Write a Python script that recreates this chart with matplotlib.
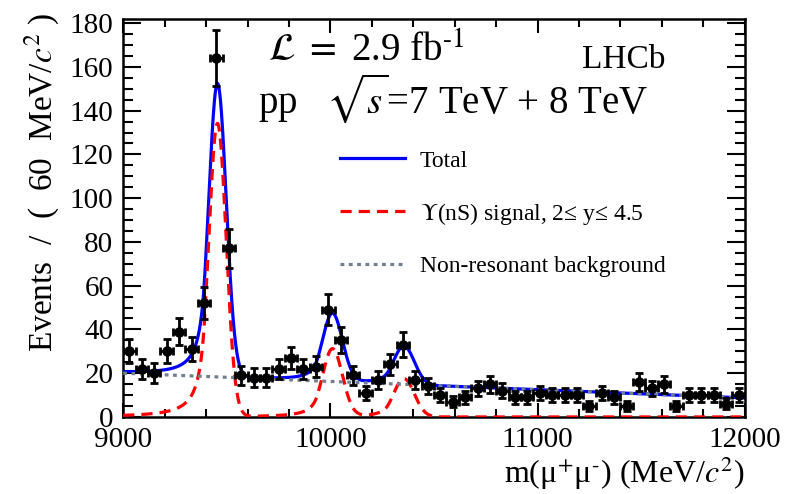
import matplotlib
matplotlib.use("Agg")
import matplotlib.pyplot as plt
import numpy as np

plt.rcParams['font.family'] = ['Liberation Serif', 'DejaVu Serif']
plt.rcParams['mathtext.fontset'] = 'stix'

# data: 60 MeV bins from 9000 to 12000
bin_centers = np.arange(9030, 12000, 60)
counts = [30, 22, 20, 30, 39, 31, 52, 164, 77, 19,
          18, 18, 22, 27, 22, 23, 49, 35, 19, 11,
          17, 24, 33, 17, 14, 10, 7, 9, 13, 15,
          12, 9, 9, 11, 10, 10, 10, 5, 11, 9,
          5, 16, 13, 15, 5, 10, 10, 10, 6, 10]

# fit components
peak_mass = [9455, 10010, 10355]
peak_height = [134, 31, 17.5]
peak_sigma = [42, 48, 50]
cb_alpha = 1.5
cb_n = 2.0
bkg_ends = [20.0, 8.7]   # background at 9000 and 12000


def crystal_ball(t, alpha, n):
    a = (n / alpha) ** n * np.exp(-alpha ** 2 / 2)
    b = n / alpha - alpha
    out = np.exp(-t ** 2 / 2)
    tail = t < -alpha
    out[tail] = a * (b - t[tail]) ** (-n)
    return out


m = np.linspace(9000, 12000, 1500)
bkg = np.interp(m, [9000, 12000], bkg_ends)
sig = np.zeros_like(m)
for mu, h, s in zip(peak_mass, peak_height, peak_sigma):
    sig += h * crystal_ball((m - mu) / s, cb_alpha, cb_n)
total = bkg + sig

fig = plt.figure(figsize=(8, 4.94), dpi=100)
ax = fig.add_axes([0.154, 0.156, 0.777, 0.806])

ax.plot(m, total, color='#0000ff', lw=2.3, label='Total', zorder=3)
ax.plot(m, sig, color='#ff0000', lw=2.3, ls=(0, (3.5, 2.2)),
        label=r'$\Upsilon$(nS) signal, 2≤ y≤ 4.5', zorder=3)
ax.plot(m, bkg, color='#708090', lw=2.3, ls=(0, (1.2, 1.4)),
        label='Non-resonant background', zorder=4)

ax.errorbar(bin_centers, counts, yerr=np.sqrt(counts), xerr=30,
            fmt='o', color='black', ms=6.5, elinewidth=2, capsize=3,
            capthick=2, zorder=5)

ax.set_xlim(9000, 12000)
ax.set_ylim(0, 182)
ax.set_xticks([9000, 10000, 11000, 12000])
ax.set_xticks(np.arange(9000, 12001, 200), minor=True)
ax.set_yticks(np.arange(0, 181, 20))
ax.set_yticks(np.arange(0, 181, 5), minor=True)
ax.tick_params(which='both', direction='in', top=True, right=True, width=1.5)
ax.tick_params(axis='y', which='major', length=13, pad=7, labelsize=21)
ax.tick_params(axis='y', which='minor', length=7)
ax.tick_params(axis='x', which='major', length=10, pad=7, labelsize=21)
ax.tick_params(axis='x', which='minor', length=6)
for sp in ax.spines.values():
    sp.set_linewidth(1.8)

ax.set_ylabel(r'Events  /  (  60  MeV/$c^{2}$ )', fontsize=24)
ax.yaxis.set_label_coords(-0.098, 0.59)
ax.set_xlabel(r'm(μ$^{+}$μ$^{\text{-}}$) (MeV/$c^{2}$)', fontsize=23, loc='right')
ax.xaxis.set_label_coords(1.0, -0.095)

fig.text(268 / 800, 1 - 62 / 494, r'$\mathcal{L}\ =\ $2.9 fb$^{\text{-1}}$',
         fontsize=28, va='baseline', ha='left')
fig.text(258 / 800, 1 - 113 / 494, r'pp   $\sqrt{s}$=7 TeV + 8 TeV',
         fontsize=28, va='baseline', ha='left')
fig.text(582 / 800, 1 - 68 / 494, 'LHCb', fontsize=24, va='baseline', ha='left')

ax.legend(loc='upper left', bbox_to_anchor=(340 / 800, 1 - 150 / 494),
          bbox_transform=fig.transFigure, frameon=False, fontsize=17,
          handlelength=2.75, handletextpad=0.64, labelspacing=1.23,
          borderpad=0, borderaxespad=0)

fig.savefig('out.png', dpi=100)
